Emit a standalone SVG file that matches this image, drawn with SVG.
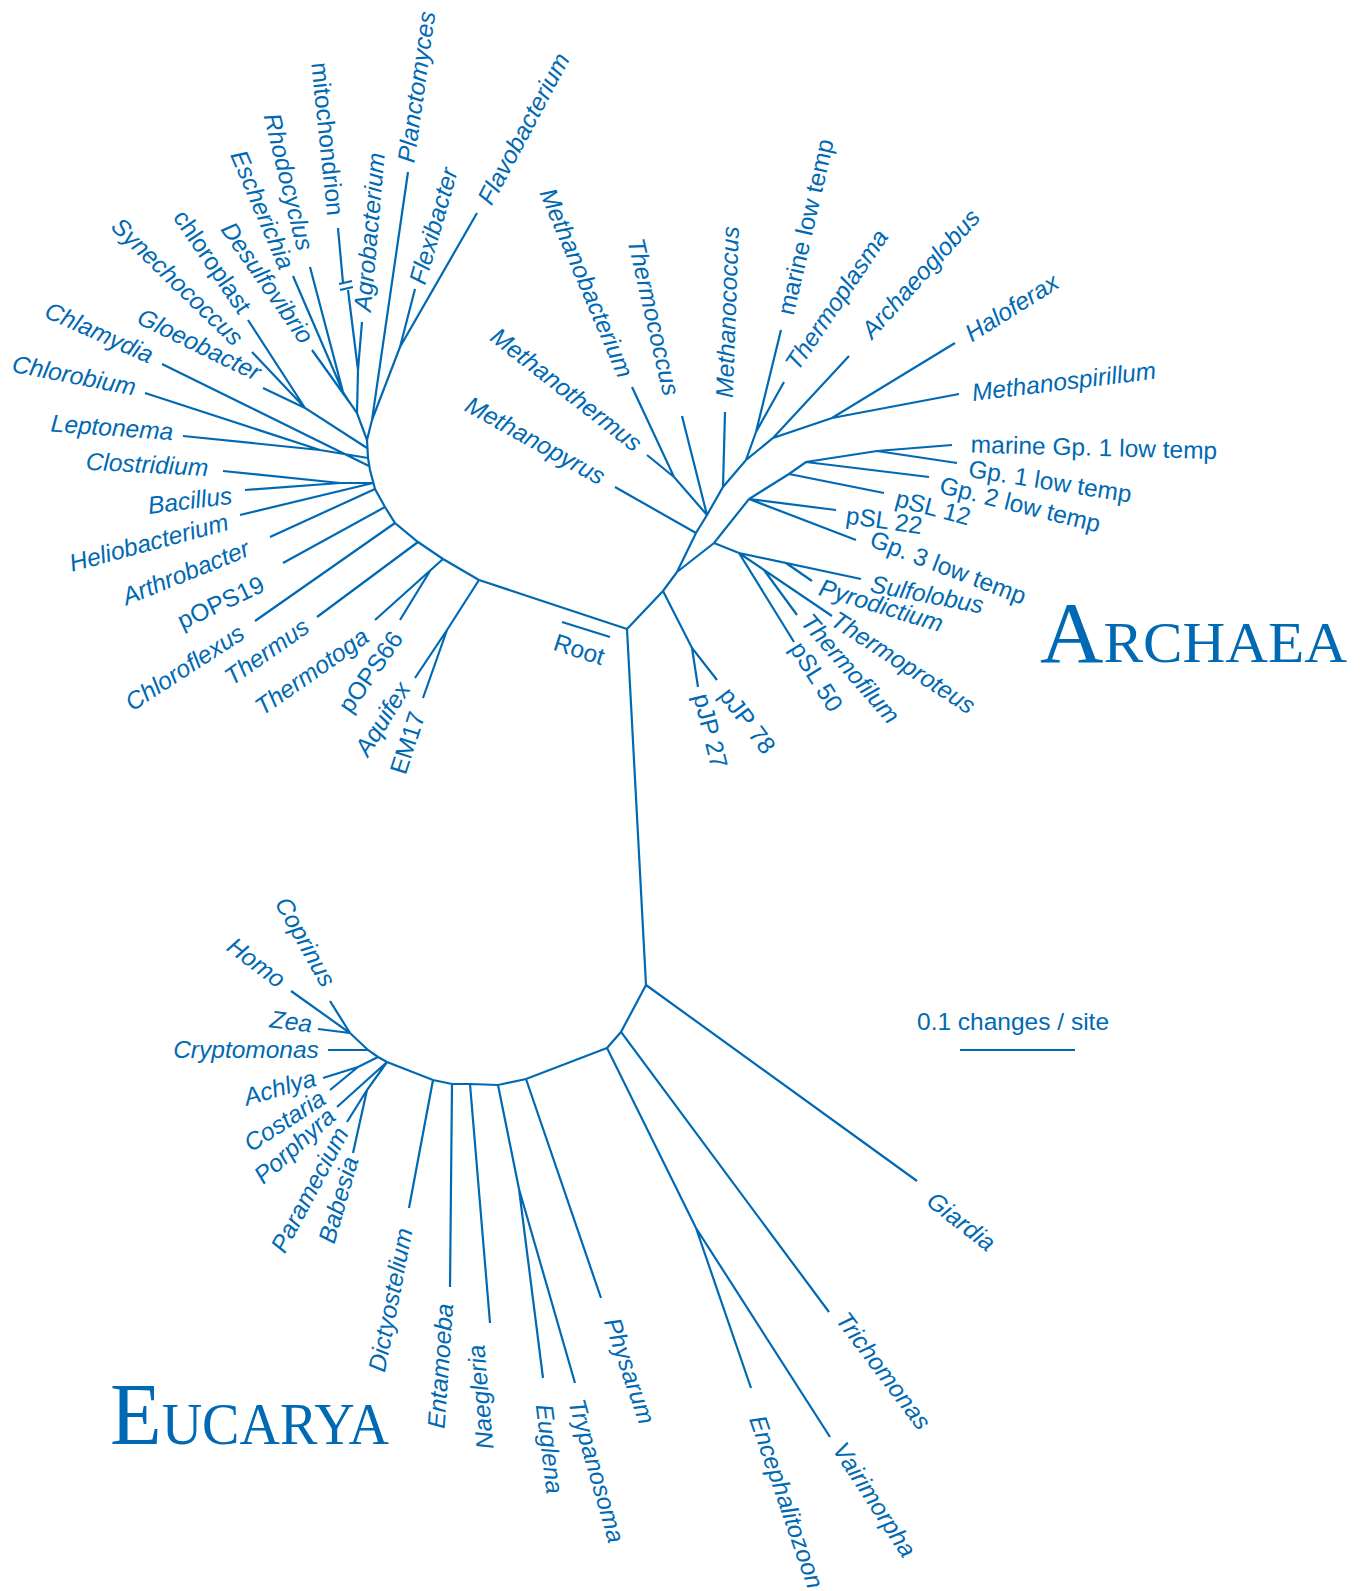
<svg xmlns="http://www.w3.org/2000/svg" width="1361" height="1591" viewBox="0 0 1361 1591">
<style>
.c{fill:none;stroke:#0069b4;stroke-width:2.2;stroke-linecap:butt;stroke-linejoin:miter}
text{fill:#0069b4;font-family:"Liberation Sans",Arial,sans-serif;font-size:24.5px}
.l text{text-anchor:middle}
.i{font-style:italic}
.t{font-family:"Liberation Serif","Times New Roman",serif}
</style>
<rect width="1361" height="1591" fill="#fff"/>
<g id="connectors" class="c">
<path d="M627,629L479,580M627,629L646,985M627,629L663,591L677,572M562,622L610,637"/>
<path d="M663,591L692,648L717,680M692,648L698,687"/>
<path d="M677,572L696,533L707,515M696,533L615,487M707,515L674,477L632,387M674,477L647,455M707,515L682,416M707,515L723,487L746,460L773,438L832,418L955,343M832,418L959,394M723,487L725,412M746,460L756,432L781,330M756,432L784,382M773,438L849,356"/>
<path d="M677,572L714,543L749,499L789,474L806,462L877,451L952,445M877,451L957,463M806,462L929,477M789,474L884,493M749,499L836,510M749,499L856,540M714,543L739,553L861,579M786,563L812,581M739,553L832,616M764,570L797,615M739,553L794,642"/>
<path d="M479,580L443,559L418,542L395,523L385,507L375,489L370,470L368,458L367,440L357,413L350,403L343,392L310,267M343,392L293,276M350,403L312,350M357,413L358,370L362,322M358,370L348,290M343,283L338,228M339,284L352,281M340,290L353,287M367,440L372,420L408,172M372,420L400,347L477,213M400,347L415,289"/>
<path d="M479,580L447,630L415,678M447,630L423,698M443,559L375,620M430,571L400,620M418,542L317,617M395,523L255,621M385,507L283,563M375,489L270,537M373,483L240,515M373,483L340,483L223,471M340,483L245,490M368,458L320,450L145,393M320,450L183,436M369,466L162,364M367,448L305,408L252,352M305,408L248,320M305,408L263,388"/>
<path d="M646,985L917,1181M646,985L621,1032L829,1312M621,1032L607,1048L696,1228L830,1437M696,1228L751,1388M607,1048L526,1079L498,1085L470,1084L452,1084L433,1080L387,1062L378,1057L368,1050L350,1033L291,991M526,1079L601,1298M498,1085L519,1189L543,1378M519,1189L575,1383M470,1084L490,1323M452,1084L450,1287M433,1080L409,1208M387,1062L337,1107M387,1062L367,1090L347,1122M367,1090L353,1153M378,1057L358,1067L323,1078M358,1067L330,1090M368,1050L328,1050M350,1033L318,1029M350,1033L330,1001"/>
<path d="M960,1050L1075,1050"/>
</g>
<g class="l">
<g id="n-planctomyces"><text class="i" dy=".32em" transform="translate(417 87) rotate(-82)">Planctomyces</text></g>
<g id="n-flexibacter"><text class="i" dy=".32em" transform="translate(434 226) rotate(-74)">Flexibacter</text></g>
<g id="n-flavobacterium"><text class="i" dy=".32em" transform="translate(524 129) rotate(-62)">Flavobacterium</text></g>
<g id="n-agrobacterium"><text class="i" dy=".32em" transform="translate(370 232) rotate(-85)">Agrobacterium</text></g>
<g id="n-mitochondrion"><text dy=".32em" transform="translate(327 139) rotate(84)">mitochondrion</text></g>
<g id="n-rhodocyclus"><text class="i" dy=".32em" transform="translate(288 182) rotate(76)">Rhodocyclus</text></g>
<g id="n-escherichia"><text class="i" dy=".32em" transform="translate(262 210) rotate(67)">Escherichia</text></g>
<g id="n-desulfovibrio"><text class="i" dy=".32em" transform="translate(267 283) rotate(55)">Desulfovibrio</text></g>
<g id="n-chloroplast"><text dy=".32em" transform="translate(212 262) rotate(56)">chloroplast</text></g>
<g id="n-synechococcus"><text class="i" dy=".32em" transform="translate(177 282) rotate(44)">Synechococcus</text></g>
<g id="n-gloeobacter"><text class="i" dy=".32em" transform="translate(199 345) rotate(26)">Gloeobacter</text></g>
<g id="n-chlamydia"><text class="i" dy=".32em" transform="translate(99 333) rotate(24)">Chlamydia</text></g>
<g id="n-chlorobium"><text class="i" dy=".32em" transform="translate(74 376) rotate(11)">Chlorobium</text></g>
<g id="n-leptonema"><text class="i" dy=".32em" transform="translate(112 428) rotate(4)">Leptonema</text></g>
<g id="n-clostridium"><text class="i" dy=".32em" transform="translate(147 465) rotate(3)">Clostridium</text></g>
<g id="n-bacillus"><text class="i" dy=".32em" transform="translate(190 501) rotate(-7)">Bacillus</text></g>
<g id="n-heliobacterium"><text class="i" dy=".32em" transform="translate(149 543) rotate(-15)">Heliobacterium</text></g>
<g id="n-arthrobacter"><text class="i" dy=".32em" transform="translate(186 573) rotate(-22)">Arthrobacter</text></g>
<g id="n-pops19"><text dy=".32em" transform="translate(221 603) rotate(-25)">pOPS19</text></g>
<g id="n-chloroflexus"><text class="i" dy=".32em" transform="translate(185 668) rotate(-33)">Chloroflexus</text></g>
<g id="n-thermus"><text class="i" dy=".32em" transform="translate(267 652) rotate(-35)">Thermus</text></g>
<g id="n-thermotoga"><text class="i" dy=".32em" transform="translate(312 672) rotate(-35)">Thermotoga</text></g>
<g id="n-pops66"><text dy=".32em" transform="translate(371 672) rotate(-55)">pOPS66</text></g>
<g id="n-aquifex"><text class="i" dy=".32em" transform="translate(383 719) rotate(-58)">Aquifex</text></g>
<g id="n-em17"><text dy=".32em" transform="translate(408 743) rotate(-72)">EM17</text></g>
<g id="n-methanopyrus"><text class="i" dy=".32em" transform="translate(535 441) rotate(29)">Methanopyrus</text></g>
<g id="n-methanothermus"><text class="i" dy=".32em" transform="translate(566 390) rotate(38)">Methanothermus</text></g>
<g id="n-methanobacterium"><text class="i" dy=".32em" transform="translate(586 283) rotate(67)">Methanobacterium</text></g>
<g id="n-thermococcus"><text class="i" dy=".32em" transform="translate(653 317) rotate(77)">Thermococcus</text></g>
<g id="n-methanococcus"><text class="i" dy=".32em" transform="translate(728 312) rotate(-88)">Methanococcus</text></g>
<g id="n-marine-low"><text dy=".32em" transform="translate(806 227) rotate(-77)">marine low temp</text></g>
<g id="n-thermoplasma"><text class="i" dy=".32em" transform="translate(837 300) rotate(-56)">Thermoplasma</text></g>
<g id="n-archaeoglobus"><text class="i" dy=".32em" transform="translate(921 274) rotate(-48)">Archaeoglobus</text></g>
<g id="n-haloferax"><text class="i" dy=".32em" transform="translate(1012 308) rotate(-32)">Haloferax</text></g>
<g id="n-methanospirillum"><text class="i" dy=".32em" transform="translate(1064 382) rotate(-7)">Methanospirillum</text></g>
<g id="n-marine-gp1"><text dy=".32em" transform="translate(1094 448) rotate(1.5)">marine Gp. 1 low temp</text></g>
<g id="n-gp1"><text dy=".32em" transform="translate(1050 482) rotate(9)">Gp. 1 low temp</text></g>
<g id="n-gp2"><text dy=".32em" transform="translate(1020 505) rotate(14)">Gp. 2 low temp</text></g>
<g id="n-psl12"><text dy=".32em" transform="translate(933 508) rotate(15)">pSL 12</text></g>
<g id="n-psl22"><text dy=".32em" transform="translate(884 521) rotate(8)">pSL 22</text></g>
<g id="n-gp3"><text dy=".32em" transform="translate(948 568) rotate(21)">Gp. 3 low temp</text></g>
<g id="n-sulfolobus"><text class="i" dy=".32em" transform="translate(927 595) rotate(11)">Sulfolobus</text></g>
<g id="n-pyrodictium"><text class="i" dy=".32em" transform="translate(881 606) rotate(17)">Pyrodictium</text></g>
<g id="n-thermoproteus"><text class="i" dy=".32em" transform="translate(903 663) rotate(33)">Thermoproteus</text></g>
<g id="n-thermofilum"><text class="i" dy=".32em" transform="translate(850 669) rotate(49)">Thermofilum</text></g>
<g id="n-psl50"><text dy=".32em" transform="translate(816 677) rotate(58)">pSL 50</text></g>
<g id="n-pjp78"><text dy=".32em" transform="translate(747 721) rotate(53)">pJP 78</text></g>
<g id="n-pjp27"><text dy=".32em" transform="translate(710 731) rotate(76)">pJP 27</text></g>
<g id="n-root"><text dy=".32em" transform="translate(579 650) rotate(18)">Root</text></g>
<g id="n-giardia"><text class="i" dy=".32em" transform="translate(961 1222) rotate(38)">Giardia</text></g>
<g id="n-trichomonas"><text class="i" dy=".32em" transform="translate(883 1371) rotate(53)">Trichomonas</text></g>
<g id="n-vairimorpha"><text class="i" dy=".32em" transform="translate(874 1500) rotate(57)">Vairimorpha</text></g>
<g id="n-encephalitozoon"><text class="i" dy=".32em" transform="translate(786 1502) rotate(71)">Encephalitozoon</text></g>
<g id="n-physarum"><text class="i" dy=".32em" transform="translate(629 1371) rotate(71)">Physarum</text></g>
<g id="n-trypanosoma"><text class="i" dy=".32em" transform="translate(596 1471) rotate(74)">Trypanosoma</text></g>
<g id="n-euglena"><text class="i" dy=".32em" transform="translate(549 1449) rotate(83)">Euglena</text></g>
<g id="n-naegleria"><text class="i" dy=".32em" transform="translate(481 1397) rotate(-95)">Naegleria</text></g>
<g id="n-entamoeba"><text class="i" dy=".32em" transform="translate(441 1366) rotate(-86)">Entamoeba</text></g>
<g id="n-dictyostelium"><text class="i" dy=".32em" transform="translate(391 1300) rotate(-79)">Dictyostelium</text></g>
<g id="n-babesia"><text class="i" dy=".32em" transform="translate(339 1200) rotate(-74)">Babesia</text></g>
<g id="n-paramecium"><text class="i" dy=".32em" transform="translate(310 1190) rotate(-62)">Paramecium</text></g>
<g id="n-porphyra"><text class="i" dy=".32em" transform="translate(295 1146) rotate(-42)">Porphyra</text></g>
<g id="n-costaria"><text class="i" dy=".32em" transform="translate(285 1121) rotate(-33)">Costaria</text></g>
<g id="n-achlya"><text class="i" dy=".32em" transform="translate(280 1088) rotate(-16)">Achlya</text></g>
<g id="n-cryptomonas"><text class="i" dy=".32em" transform="translate(246 1050)">Cryptomonas</text></g>
<g id="n-zea"><text class="i" dy=".32em" transform="translate(291 1022) rotate(7)">Zea</text></g>
<g id="n-homo"><text class="i" dy=".32em" transform="translate(256 963) rotate(37)">Homo</text></g>
<g id="n-coprinus"><text class="i" dy=".32em" transform="translate(305 942) rotate(61)">Coprinus</text></g>
</g>
<g id="scale"><text x="917" y="1030">0.1 changes / site</text></g>
<g id="t-archaea"><text class="t" x="1040" y="662" textLength="307" lengthAdjust="spacingAndGlyphs"><tspan font-size="86">A</tspan><tspan font-size="58">RCHAEA</tspan></text></g>
<g id="t-eucarya"><text class="t" x="110" y="1444" textLength="279" lengthAdjust="spacingAndGlyphs"><tspan font-size="89">E</tspan><tspan font-size="59">UCARYA</tspan></text></g>
</svg>
